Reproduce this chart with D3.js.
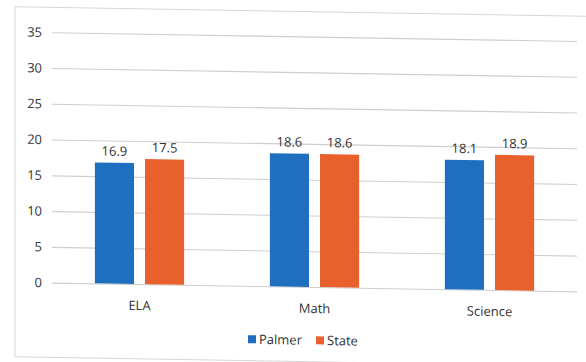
<!DOCTYPE html>
<html><head><meta charset="utf-8">
<script src="https://cdn.jsdelivr.net/npm/d3@7"></script>
<style>html,body{margin:0;padding:0;background:#fff;}svg{display:block;}</style>
</head><body>
<svg id="c" width="586" height="362"></svg>
<script>
const categories = ["ELA", "Math", "Science"];
const seriesNames = ["Palmer", "State"];
const palmerValues = [16.9, 18.6, 18.1];
const stateValues = [17.5, 18.6, 18.9];
const yTicks = [0, 5, 10, 15, 20, 25, 30, 35];
const colors = ["#1f6fc0", "#e8612d"];

const svg = d3.select("#c");
const skew = 0.95;
const g = svg.append("g").attr("transform", `translate(55,0) skewY(${skew}) translate(-55,0)`);

// chart frame
g.append("rect").attr("x", 15).attr("y", 7.5).attr("width", 620).attr("height", 350)
  .attr("fill", "none").attr("stroke", "#d6d6d6").attr("stroke-width", 1);

const x0 = 52, x1 = 577;
const x = d3.scaleBand().domain(categories).range([x0, x1]).paddingInner(0.49).paddingOuter(0.245);
const xs = d3.scaleBand().domain(seriesNames).range([0, x.bandwidth()]).paddingInner(0.22);
const y = d3.scaleLinear().domain([0, 35]).range([282.7, 32.3]);

const font = "'Open Sans', 'DejaVu Sans', sans-serif";

// gridlines + tick labels via axis
const yAxis = d3.axisLeft(y).tickValues(yTicks).tickSize(-(x1 - x0)).tickPadding(10);
const ax = g.append("g").attr("transform", `translate(${x0},0)`).call(yAxis);
ax.select(".domain").remove();
ax.selectAll(".tick line").attr("stroke", "#cfcfcf").attr("stroke-width", 1.1);
ax.selectAll(".tick text").attr("fill", "#333").style("font-family", font).style("font-size", "13px").attr("x", -10);

const data = categories.map((c, i) => ({cat: c, vals: [palmerValues[i], stateValues[i]]}));

const grp = g.selectAll(".grp").data(data).join("g").attr("class", "grp")
  .attr("transform", d => `translate(${x(d.cat)},0)`);

grp.selectAll("rect").data(d => d.vals.map((v, j) => ({s: seriesNames[j], v, j})))
  .join("rect")
  .attr("x", d => xs(d.s)).attr("width", xs.bandwidth())
  .attr("y", d => y(d.v)).attr("height", d => y(0) - y(d.v))
  .attr("fill", d => colors[d.j]);

grp.selectAll("text.val").data(d => d.vals.map((v, j) => ({s: seriesNames[j], v, j})))
  .join("text").attr("class", "val")
  .attr("x", d => xs(d.s) + xs.bandwidth() / 2)
  .attr("y", d => y(d.v) - 7)
  .attr("text-anchor", "middle")
  .attr("fill", "#333").style("font-family", font).style("font-size", "13px")
  .text(d => d.v.toFixed(1));

// category labels
g.selectAll("text.cat").data(categories).join("text").attr("class", "cat")
  .attr("x", d => x(d) + x.bandwidth() / 2)
  .attr("y", y(0) + 26)
  .attr("text-anchor", "middle")
  .attr("fill", "#333").style("font-family", font).style("font-size", "13px")
  .text(d => d);

// legend
const legX = [248, 316];
const leg = g.selectAll(".leg").data(seriesNames).join("g").attr("class", "leg")
  .attr("transform", (d, i) => `translate(${legX[i]},336)`);
leg.append("rect").attr("x", 0).attr("y", -4).attr("width", 8).attr("height", 8)
  .attr("fill", (d, i) => colors[i]);
leg.append("text").attr("x", 11).attr("y", 4.5)
  .attr("fill", "#333").style("font-family", font).style("font-size", "13px")
  .text(d => d);
</script>
</body></html>
